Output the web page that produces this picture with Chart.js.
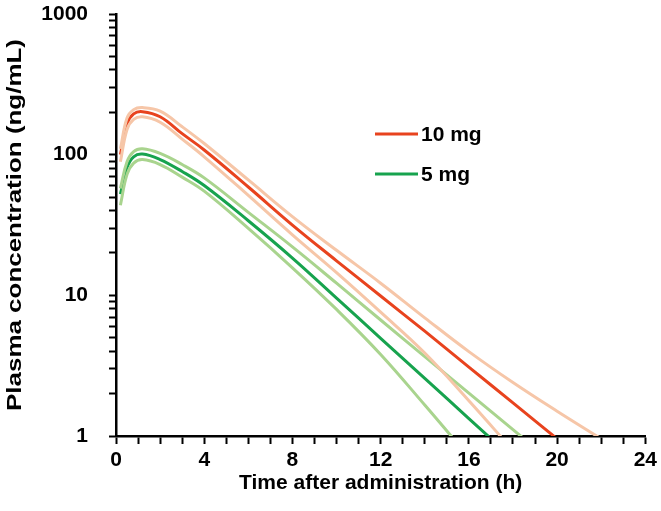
<!DOCTYPE html>
<html>
<head>
<meta charset="utf-8">
<script src="https://cdn.jsdelivr.net/npm/chart.js@4.4.1/dist/chart.umd.min.js"></script>
<style>
  html, body { margin: 0; padding: 0; background: #fff; }
  #wrap { width: 661px; height: 511px; }
</style>
</head>
<body>
<div id="wrap"><canvas id="pk-chart" width="661" height="511"></canvas></div>
<script>
// time points (h) and plasma concentrations (ng/mL)
const times = [0.2, 0.5, 0.8, 1.2, 2, 3, 4, 6, 8, 10, 12, 14, 16, 18, 20, 22];
const conc10Median = [100, 166, 195, 202, 186, 141, 108, 58.9, 31.6, 17.6, 9.89, 5.56, 3.09, 1.72, 0.955, null];
const conc10Upper  = [110, 182, 209, 216, 204, 158, 120, 66.1, 36.3, 20.9, 12.2, 6.92, 3.98, 2.40, 1.50, 0.955];
const conc10Lower  = [89, 151, 178, 186, 170, 129, 96.6, 51.3, 26.9, 14.5, 7.59, 3.89, 1.78, 0.79, null, null];
const conc5Median  = [52.5, 81, 96.6, 101, 92.3, 75.9, 60.3, 33.9, 18.4, 9.55, 4.95, 2.57, 1.33, 0.69, null, null];
const conc5Upper   = [57.5, 89, 105, 110, 102, 85.1, 68.4, 38.9, 22.1, 12.2, 6.68, 3.67, 2.02, 1.11, 0.61, null];
const conc5Lower   = [43.7, 72.4, 87, 92.3, 85.1, 69.2, 55, 29.9, 15.7, 7.94, 3.8, 1.66, 0.71, null, null, null];

const xTickLabels = [0, 4, 8, 12, 16, 20, 24];
const yTickLabels = [1, 10, 100, 1000];
const doseLabels = ['10 mg', '5 mg'];
const xTitle = 'Time after administration (h)';
const yTitle = 'Plasma concentration (ng/mL)';

const FONT = 'Liberation Sans, Arial, sans-serif';
const RED = '#e8431e';
const PEACH = '#f6c6a8';
const GREEN = '#17a34e';
const LIGHT_GREEN = '#a9d48e';

function toPoints(values) {
    return times.map((t, i) => ({ x: t, y: values[i] })).filter(p => p.y !== null);
}

function line(label, values, color, legendOrder) {
    return {
        label: label,
        data: toPoints(values),
        borderColor: color,
        backgroundColor: color,
        borderWidth: 3,
        pointRadius: 0,
        tension: 0.4,
        fill: false,
        legendOrder: legendOrder
    };
}

// legend drawn inside the plot, next to the curves
const inlineLegend = {
    id: 'inlineLegend',
    afterDraw(chart) {
        const ctx = chart.ctx;
        const items = chart.data.datasets
            .filter(d => d.legendOrder !== undefined)
            .sort((a, b) => a.legendOrder - b.legendOrder);
        ctx.save();
        ctx.font = 'bold 21px ' + FONT;
        ctx.textBaseline = 'middle';
        items.forEach((d, i) => {
            const y = 134 + i * 40;
            ctx.strokeStyle = d.borderColor;
            ctx.lineWidth = 3;
            ctx.beginPath();
            ctx.moveTo(375, y);
            ctx.lineTo(418, y);
            ctx.stroke();
            ctx.fillStyle = '#000';
            ctx.fillText(d.label, 421, y + 1);
        });
        ctx.restore();
    }
};

// y axis title: the original is stretched along its length
const stretchedYTitle = {
    id: 'stretchedYTitle',
    afterDraw(chart) {
        const ctx = chart.ctx;
        const area = chart.chartArea;
        ctx.save();
        ctx.font = 'bold 21px ' + FONT;
        const w = ctx.measureText(yTitle).width;
        ctx.translate(15, (area.top + area.bottom) / 2);
        ctx.rotate(-Math.PI / 2);
        ctx.scale(372 / w, 1);
        ctx.fillStyle = '#000';
        ctx.textAlign = 'center';
        ctx.textBaseline = 'middle';
        ctx.fillText(yTitle, 0, 0);
        ctx.restore();
    }
};

const ctx = document.getElementById('pk-chart');
new Chart(ctx, {
    type: 'line',
    data: {
        datasets: [
            line('10 mg upper', conc10Upper, PEACH),
            line('10 mg lower', conc10Lower, PEACH),
            line('5 mg upper', conc5Upper, LIGHT_GREEN),
            line('5 mg lower', conc5Lower, LIGHT_GREEN),
            line(doseLabels[1], conc5Median, GREEN, 1),
            line(doseLabels[0], conc10Median, RED, 0)
        ]
    },
    options: {
        responsive: false,
        animation: false,
        layout: { padding: { top: 14, right: 4, left: 2, bottom: 0 } },
        plugins: {
            legend: { display: false },
            tooltip: { enabled: false }
        },
        scales: {
            x: {
                type: 'linear',
                min: 0,
                max: 24,
                afterFit: scale => { scale.height = 75; },
                grid: { display: true, drawOnChartArea: false, tickLength: 8, tickColor: '#000', tickWidth: 2 },
                border: { color: '#000', width: 2.5 },
                ticks: {
                    stepSize: 1,
                    autoSkip: false,
                    maxRotation: 0,
                    padding: 4,
                    color: '#000',
                    font: { family: FONT, size: 21, weight: 'bold' },
                    callback: v => xTickLabels.includes(v) ? String(v) : ''
                },
                title: {
                    display: true,
                    text: xTitle,
                    color: '#000',
                    font: { family: FONT, size: 21, weight: 'bold' },
                    padding: { top: 2, bottom: 15 }
                }
            },
            y: {
                type: 'logarithmic',
                min: 1,
                max: 1000,
                afterBuildTicks: scale => {
                    const ticks = [];
                    for (let d = 1; d < 1000; d *= 10) {
                        for (let m = 1; m < 10; m++) ticks.push({ value: m * d });
                    }
                    ticks.push({ value: 1000 });
                    scale.ticks = ticks;
                },
                afterFit: scale => {
                    scale.width = 114;
                    scale.paddingTop = 0;
                    scale.paddingBottom = 0;
                },
                grid: { display: true, drawOnChartArea: false, tickLength: 7, tickColor: '#000', tickWidth: 2 },
                border: { color: '#000', width: 2.5 },
                ticks: {
                    autoSkip: false,
                    padding: 21,
                    color: '#000',
                    font: { family: FONT, size: 21, weight: 'bold' },
                    callback: v => yTickLabels.includes(v) ? String(v) : ''
                },
                title: { display: false }
            }
        }
    },
    plugins: [inlineLegend, stretchedYTitle]
});
</script>
</body>
</html>
